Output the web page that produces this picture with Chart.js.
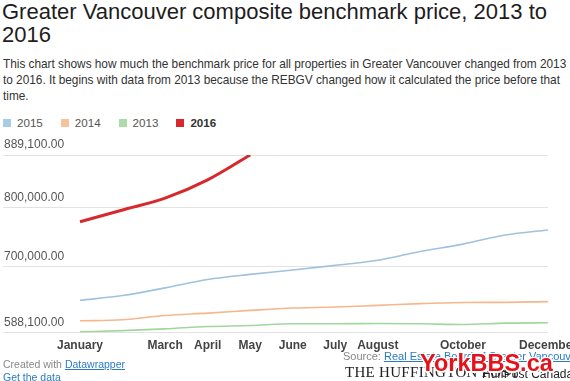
<!DOCTYPE html>
<html>
<head>
<meta charset="utf-8">
<script src="https://cdn.jsdelivr.net/npm/chart.js@4.4.1/dist/chart.umd.min.js"></script>
<style>
  html, body { margin:0; padding:0; width:570px; height:381px; overflow:hidden; background:#fff; font-family:"Liberation Sans", Arial, sans-serif; }
  #title { position:absolute; left:2px; top:0px; width:568px; font-size:22px; line-height:23px; color:#1d1d1d; }
  #desc { position:absolute; left:3px; top:56px; width:567px; font-size:11.85px; line-height:16px; color:#333; letter-spacing:-0.02px; }
  #legend { position:absolute; left:3px; top:116px; font-size:11.6px; color:#555; white-space:nowrap; }
  #legend span.item { margin-right:18px; }
  #legend span.sw { display:inline-block; width:8px; height:8px; margin-right:6px; vertical-align:0px; }
  #c { position:absolute; left:0; top:130px; }
  #foot1 { position:absolute; left:3px; top:358px; font-size:10.5px; color:#888; line-height:13px; }
  #foot1 a, #src a { color:#2a7bc5; text-decoration:underline; }
  #src { position:absolute; left:343px; top:350px; font-size:11px; color:#888; white-space:nowrap; }
  #huff { position:absolute; left:345px; top:364px; font-family:"Liberation Serif", serif; font-size:15px; color:#222; white-space:nowrap; letter-spacing:0.3px; }
  #huffc { position:absolute; left:482px; top:367px; font-size:12px; color:#222; white-space:nowrap; }
  #wm { position:absolute; left:420px; top:350px; font-family:"Liberation Sans", Arial, sans-serif; font-weight:bold; font-size:23.5px; color:#e5121a; white-space:nowrap;
        text-shadow: -1px -1px 0 #fff, 1px -1px 0 #fff, -1px 1px 0 #fff, 1px 1px 0 #fff, 0 2px 0 #fff, 2px 0 0 #fff; }
</style>
</head>
<body>
<div id="title">Greater Vancouver composite benchmark price, 2013 to 2016</div>
<div id="desc">This chart shows how much the benchmark price for all properties in Greater Vancouver changed from 2013 to 2016. It begins with data from 2013 because the REBGV changed how it calculated the price before that time.</div>
<div id="legend"></div>
<canvas id="c" width="590" height="229"></canvas>
<div id="foot1">Created with <a>Datawrapper</a><br><a>Get the data</a></div>
<div id="src">Source: <a>Real Estate Board of Greater Vancouver</a></div>
<div id="huff">THE HUFFINGTON POST</div>
<div id="huffc">HuffPost Canada</div>
<div id="wm">YorkBBS.ca</div>
<script>
// ---- data ----
const months = ["January","February","March","April","May","June","July","August","September","October","November","December"];
const shownMonths = ["January","March","April","May","June","July","August","October","December"];
const yTickValues = [588100, 700000, 800000, 889100];
const seriesNames = ["2015","2014","2013","2016"];
const values2015 = [642800, 650900, 663900, 678200, 686800, 694100, 702100, 710700, 725500, 738100, 753500, 762000];
const values2014 = [608100, 609800, 617200, 621100, 625700, 629700, 631400, 634300, 637200, 639000, 639400, 640600];
const values2013 = [589300, 591500, 594400, 598400, 600100, 603000, 603000, 603600, 603000, 601800, 604100, 604700];
const values2016 = [776000, 796000, 816000, 847000, 889100];

const seriesValues = [values2015, values2014, values2013, values2016];
const lineColors = ["#9fc2df", "#f5b78c", "#a2d69d", "#d7282b"];
const swatchColors = ["#a9cce6", "#f6c49c", "#acdba8", "#d7282b"];
const lineWidths = [1.6, 1.6, 1.6, 3];

// legend
const lg = document.getElementById('legend');
seriesNames.forEach((n, i) => {
  const s = document.createElement('span');
  s.className = 'item';
  s.innerHTML = '<span class="sw" style="background:' + swatchColors[i] + '"></span>' +
    (i === 3 ? '<b style="color:#333">' + n + '</b>' : n);
  lg.appendChild(s);
});

const datasets = seriesNames.map((n, i) => ({
  label: n,
  data: seriesValues[i].map((v, j) => ({x: j, y: v})),
  borderColor: lineColors[i],
  backgroundColor: lineColors[i],
  borderWidth: lineWidths[i],
  pointRadius: 0,
  pointHoverRadius: 0,
  cubicInterpolationMode: 'monotone',
  fill: false,
  order: i === 3 ? 0 : 1
}));

new Chart(document.getElementById('c'), {
  type: 'line',
  data: { datasets },
  options: {
    responsive: false,
    devicePixelRatio: 1,
    animation: false,
    layout: { padding: { left: 1, right: 42, top: 25, bottom: 0 } },
    plugins: { legend: { display: false }, tooltip: { enabled: false } },
    scales: {
      x: {
        type: 'linear',
        min: -1.81,
        max: 11,
        afterBuildTicks: (scale) => { scale.ticks = months.map((m, i) => ({ value: i })); },
        grid: { display: false, drawTicks: false },
        border: { display: false },
        ticks: {
          autoSkip: false,
          maxRotation: 0,
          padding: 6,
          color: '#444',
          font: { family: '"Liberation Sans", Arial, sans-serif', size: 12, weight: 'bold' },
          callback: (v) => { const m = months[v]; return shownMonths.includes(m) ? m : ''; }
        }
      },
      y: {
        type: 'linear',
        min: yTickValues[0],
        max: yTickValues[yTickValues.length - 1],
        afterBuildTicks: (scale) => { scale.ticks = yTickValues.map(v => ({ value: v })); },
        grid: { color: '#e3e3e3', lineWidth: 1, drawTicks: false },
        border: { display: false },
        ticks: {
          mirror: true,
          padding: 1,
          labelOffset: -10,
          color: '#555',
          font: { family: '"Liberation Sans", Arial, sans-serif', size: 12 },
          callback: (v) => v.toLocaleString('en-US', { minimumFractionDigits: 2, maximumFractionDigits: 2 })
        }
      }
    }
  }
});
</script>
</body>
</html>
